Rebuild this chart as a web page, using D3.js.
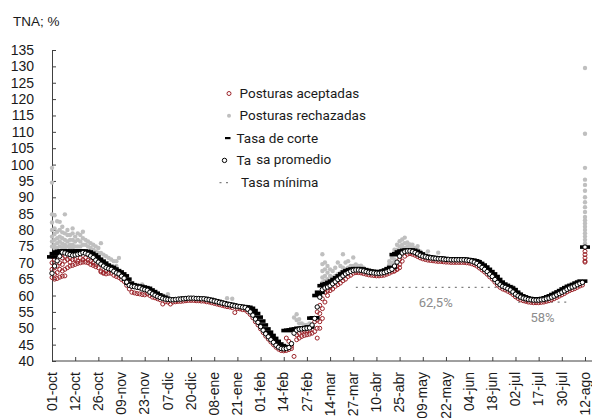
<!DOCTYPE html>
<html lang="es">
<head>
<meta charset="utf-8">
<script src="https://d3js.org/d3.v7.min.js"></script>
<style>
  body { margin: 0; background: #fff; }
  text { font-family: "Liberation Sans", Arial, sans-serif; fill: #1a1a1a; }
  .leyenda text, .nota { font-family: Roboto, "Liberation Sans", sans-serif; }
</style>
</head>
<body>
<script>
// etiquetas del eje x: una cada 9 licitaciones
const etiquetas = ["01-oct","12-oct","26-oct","09-nov","23-nov","07-dic","20-dic","08-ene","21-ene",
  "01-feb","14-feb","27-feb","14-mar","27-mar","10-abr","25-abr","09-may","22-may","04-jun",
  "18-jun","02-jul","17-jul","30-jul","12-ago"];
const diasPorEtiqueta = 9;
const ticksY = [40,45,50,55,60,65,70,75,80,85,90,95,100,105,110,115,120,125,130,135];

// tasa promedio (una por licitacion)
const promedio = [
  66.8, 69.0, 70.6, 72.0, 73.2, 73.0, 72.7, 72.5, 72.3,
  72.4, 72.6, 72.8, 73.1, 72.9, 72.6, 72.1, 71.6, 70.8,
  70.2, 69.6, 69.0, 68.5, 68.2, 68.0, 67.4, 66.9, 66.6,
  65.9, 65.3, 64.1, 63.1, 62.8, 62.7, 62.5, 62.4, 62.0,
  61.8, 61.6, 61.0, 60.5, 60.1, 59.7, 59.4, 59.1, 58.9,
  58.8, 58.7, 58.7, 58.8, 58.9, 58.9, 59.0, 59.1, 59.2,
  59.2, 59.2, 59.1, 59.1, 59.0, 59.0, 58.8, 58.7, 58.5,
  58.3, 58.1, 57.9, 57.7, 57.5, 57.3, 57.2, 57.0, 56.8,
  56.7, 56.6, 56.4, 56.3, 55.8, 55.0, 54.0, 52.8, 51.8,
  50.5, 49.4, 48.3, 47.4, 46.5, 45.7, 44.8, 44.2, 43.8,
  43.7, 43.8, 44.1, 45.3, 48.5, 49.4, 49.7, 49.8, 49.9,
  50.0, 50.1, 51.0, 53.0, 56.5, 59.5, 61.8, 62.3, 62.6,
  63.0, 63.6, 64.2, 64.9, 65.4, 66.0, 66.6, 67.0, 67.4,
  67.7, 67.8, 67.8, 67.7, 67.5, 67.3, 67.1, 67.0, 66.9,
  66.8, 66.8, 66.9, 67.0, 67.3, 67.6, 68.0, 69.0, 70.2,
  72.0, 73.0, 73.4, 73.6, 73.6, 73.4, 73.1, 72.7, 72.3,
  72.0, 71.8, 71.6, 71.5, 71.4, 71.3, 71.2, 71.2, 71.1,
  71.0, 71.0, 70.9, 70.9, 70.9, 70.9, 70.9, 70.9, 70.8,
  70.7, 70.5, 70.2, 69.8, 69.2, 68.6, 68.0, 67.3, 66.5,
  65.8, 64.9, 64.0, 63.3, 62.8, 62.5, 62.1, 61.7, 61.1,
  60.4, 59.9, 59.5, 59.2, 59.0, 58.8, 58.7, 58.6, 58.6,
  58.6, 58.7, 58.8, 59.0, 59.2, 59.5, 59.8, 60.2, 60.6,
  61.0, 61.4, 61.9, 62.3, 62.6, 62.9, 63.3, 63.7, 64.0,
  74.8
];

// tasa de corte (una por licitacion)
const corte = [
  71.8, 72.8, 73.3, 73.5, 73.6, 73.6, 73.5, 73.5, 73.5,
  73.5, 73.6, 73.6, 73.6, 73.5, 73.3, 72.9, 72.4, 71.8,
  71.1, 70.5, 69.9, 69.3, 68.9, 68.6, 68.1, 67.6, 67.2,
  66.6, 66.0, 65.0, 63.8, 63.3, 63.1, 62.9, 62.8, 62.6,
  62.4, 62.2, 61.7, 61.2, 60.7, 60.2, 59.8, 59.5, 59.2,
  58.9, 58.8, 58.8, 58.9, 59.0, 59.0, 59.1, 59.2, 59.3,
  59.3, 59.3, 59.2, 59.2, 59.1, 59.1, 58.9, 58.8, 58.6,
  58.4, 58.2, 58.0, 57.8, 57.6, 57.4, 57.3, 57.1, 56.9,
  56.8, 56.7, 56.6, 56.5, 56.4, 56.1, 55.4, 54.5, 53.4,
  52.2, 51.0, 49.8, 48.8, 47.8, 46.9, 46.0, 45.2, 44.7,
  44.4, 49.3, 49.4, 49.5, 49.7, 49.8, 50.0, 50.0, 50.1,
  50.2, 50.4, 53.1, 53.2, 60.0, 61.0, 63.0, 63.4, 63.6,
  64.0, 64.4, 64.9, 65.4, 66.0, 66.6, 67.2, 67.6, 67.9,
  68.1, 68.2, 68.2, 68.1, 67.9, 67.7, 67.5, 67.4, 67.3,
  67.2, 67.2, 67.3, 67.5, 67.8, 68.2, 68.6, 72.5, 72.8,
  73.3, 73.6, 73.8, 73.9, 73.9, 73.8, 73.5, 73.1, 72.7,
  72.2, 72.0, 71.8, 71.7, 71.6, 71.5, 71.4, 71.4, 71.3,
  71.2, 71.2, 71.1, 71.1, 71.1, 71.1, 71.1, 71.1, 71.0,
  70.9, 70.8, 70.6, 70.3, 69.8, 69.3, 68.7, 68.0, 67.3,
  66.6, 65.8, 64.9, 64.1, 63.5, 63.1, 62.7, 62.3, 61.8,
  61.0, 60.4, 59.9, 59.6, 59.3, 59.1, 59.0, 58.9, 58.9,
  58.9, 59.0, 59.1, 59.3, 59.6, 59.9, 60.3, 60.7, 61.1,
  61.5, 62.0, 62.4, 62.8, 63.1, 63.4, 63.8, 64.1, 64.4,
  74.8
];

// postura aceptada mas baja de cada licitacion
const aceptadaMin = [
  65.5, 65.0, 65.2, 65.6, 65.9, 66.0, 68.5, 69.0, 69.2,
  69.5, 69.8, 70.0, 70.2, 70.2, 70.0, 69.5, 69.2, 68.8,
  68.5, 67.5, 66.8, 66.6, 66.8, 66.8, 66.2, 65.8, 65.5,
  64.9, 64.3, 63.1, 62.0, 61.0, 60.8, 60.6, 60.5, 60.3,
  60.2, 60.5, 60.0, 59.5, 59.3, 59.0, 58.7, 57.4, 58.1,
  58.0, 57.4, 58.0, 58.1, 58.2, 58.2, 58.3, 58.4, 58.5,
  58.5, 58.5, 58.4, 58.4, 58.3, 58.3, 58.1, 58.0, 57.8,
  57.6, 57.4, 57.2, 57.0, 56.8, 56.6, 56.5, 56.3, 54.8,
  56.0, 55.9, 55.7, 55.6, 55.0, 54.2, 53.2, 52.0, 51.0,
  49.8, 48.7, 47.6, 46.7, 45.8, 45.0, 44.2, 43.6, 43.2,
  43.1, 43.2, 43.5, 43.8, 41.4, 46.5, 47.0, 47.5, 47.8,
  48.0, 48.2, 48.5, 49.0, 47.0, 50.0, 53.0, 58.0, 60.0,
  61.5, 62.0, 62.8, 63.3, 63.8, 64.5, 65.0, 65.8, 66.2,
  66.8, 67.0, 67.0, 66.9, 66.7, 66.5, 66.3, 66.2, 66.1,
  66.0, 66.0, 66.1, 66.2, 66.5, 66.8, 67.2, 67.5, 68.0,
  68.5, 70.5, 72.0, 72.6, 72.8, 72.6, 72.3, 71.9, 71.5,
  71.2, 71.0, 70.8, 70.7, 70.6, 70.5, 70.4, 70.4, 70.3,
  70.2, 70.2, 70.1, 70.1, 70.1, 70.1, 70.1, 70.1, 70.0,
  69.9, 69.7, 69.4, 69.0, 68.4, 67.8, 67.2, 66.5, 65.7,
  65.0, 64.1, 63.2, 62.5, 62.0, 61.7, 61.3, 60.9, 60.3,
  59.6, 59.1, 58.7, 58.4, 58.2, 58.0, 57.9, 57.8, 57.8,
  57.8, 57.9, 58.0, 58.2, 58.4, 58.7, 59.0, 59.4, 59.8,
  60.2, 60.6, 61.1, 61.5, 61.8, 62.1, 62.5, 62.9, 63.2,
  70.2
];

// otras posturas aceptadas: [licitacion, tasa]
const aceptadasExtra = [
  [0,72.0],[0,70.0],[0,68.0],[1,71.0],[1,68.5],[1,66.5],[2,71.5],[2,69.0],[2,67.0],
  [3,72.5],[3,70.0],[3,68.0],[4,71.5],[4,69.5],[4,67.5],[5,72.0],[5,70.5],[5,68.0],
  [6,71.0],[7,71.5],[7,70.2],[8,71.0],[9,71.0],[10,70.5],[11,71.5],[12,71.0],
  [13,71.5],[14,70.8],[15,70.5],[16,70.0],[17,69.5],[19,67.2],[20,67.0],[21,67.5],
  [91,47.0],[92,46.0],[93,44.5],[95,48.0],[96,48.5],[97,49.0],[98,49.2],[99,49.3],
  [100,49.5],[101,50.5],[102,52.0],[103,50.0],[103,52.5],[103,55.0],[104,52.0],
  [104,54.5],[104,57.0],[105,56.0],[105,59.0],[106,61.0],[106,62.0],[107,61.5],[108,62.5],
  [133,67.5],[134,68.0],[134,69.0],[135,69.5],[135,71.0],
  [207,73.5],[207,72.5],[207,71.5],[207,70.5]
];

// posturas rechazadas: [licitacion, tasas...]
const rechazadas = [
  [0, 99.0, 94.5, 84.8, 82.3, 80.0, 78.0, 76.5, 75.0],
  [1, 84.5, 80.5, 78.8, 77.0, 75.5, 74.5],
  [2, 82.7, 79.5, 77.5, 76.0, 74.5],
  [3, 82.5, 80.0, 78.0, 76.5, 75.0],
  [4, 81.0, 79.3, 77.5, 75.8, 74.5],
  [5, 84.8, 79.0, 77.0, 75.5, 74.5],
  [6, 80.0, 78.5, 76.5, 75.0],
  [7, 78.5, 77.0, 75.5, 74.5],
  [8, 80.5, 79.0, 77.0, 75.5, 74.5],
  [9, 78.0, 76.5, 75.0],
  [10, 79.0, 77.0, 75.0],
  [11, 78.5, 76.5, 75.0],
  [12, 79.5, 77.5, 75.5],
  [13, 77.0, 75.5],
  [14, 76.5, 75.0],
  [15, 76.0, 74.5],
  [16, 75.5, 74.0],
  [17, 75.0, 73.5],
  [18, 74.5, 73.0],
  [19, 76.0, 73.0],
  [20, 72.5], [21, 72.0], [22, 71.5], [23, 71.0], [24, 70.5],
  [25, 70.5, 69.0], [26, 71.5],
  [35, 63.4], [43, 60.0], [45, 60.4], [68, 59.2], [70, 59.0],
  [94, 53.3], [95, 54.3, 52.5], [96, 52.8, 51.5], [97, 51.5], [98, 51.0], [99, 51.0], [100, 51.5],
  [105, 72.6, 69.6, 67.5, 65.5, 64.0],
  [106, 70.1, 68.0, 66.0, 64.5],
  [107, 69.0, 67.0, 65.0],
  [108, 68.0, 66.0, 64.5],
  [109, 67.5, 65.5], [110, 68.5, 66.0], [111, 70.1, 66.5], [112, 69.0, 67.0],
  [113, 72.6, 68.5, 67.0], [114, 70.1, 68.0], [115, 70.5, 68.5], [116, 69.0],
  [117, 71.6, 69.0], [118, 69.5], [119, 69.0], [120, 69.1, 68.5], [121, 68.5],
  [131, 70.5, 69.5], [132, 71.5, 70.0], [133, 74.0, 72.5, 71.0], [134, 75.5, 74.0, 72.5],
  [135, 76.6, 75.0, 73.5], [136, 77.1, 75.5, 74.5], [137, 77.7, 76.0, 74.5],
  [138, 76.2, 75.0], [139, 75.6, 74.5], [140, 75.5, 74.5], [141, 74.5], [142, 75.1, 74.0],
  [143, 73.5], [146, 73.5], [150, 73.1],
  [166, 70.5], [167, 69.8], [179, 62.6], [181, 61.0],
  [193, 59.8], [195, 60.5], [200, 62.8], [204, 64.2],
  [207, 129.5, 109.4, 99.0, 95.4, 93.8, 92.0, 90.0, 88.5, 87.0, 85.5, 84.0, 83.0,
        82.0, 81.0, 80.0, 79.0, 78.0, 77.0, 76.0, 75.5]
];

// tasas minimas vigentes
const tasaMinima = [
  {desde: 118, hasta: 180, tasa: 62.5, texto: "62,5%"},
  {desde: 181, hasta: 200, tasa: 58, texto: "58%"}
];

const W = 592, H = 418;
const svg = d3.select("body").append("svg").attr("width", W).attr("height", H);

const x = d3.scaleLinear()
  .domain([0, (etiquetas.length - 1) * diasPorEtiqueta])
  .range([52, 585]);
const y = d3.scaleLinear().domain([40, 135]).range([361, 50]);

// titulo del eje
svg.append("text").attr("x", 13).attr("y", 26).attr("font-size", 13.5).text("TNA; %");

// eje y
const ejeY = svg.append("g").attr("transform", "translate(52,0)")
  .call(d3.axisLeft(y).tickValues(ticksY).tickSize(-4).tickSizeOuter(0).tickPadding(18));
ejeY.selectAll("text").attr("font-size", 14).attr("font-family", null);

// eje x
const ejeX = svg.append("g").attr("transform", "translate(0,361)")
  .call(d3.axisBottom(x)
    .tickValues(etiquetas.map((d, i) => i * diasPorEtiqueta))
    .tickFormat((d, i) => etiquetas[i])
    .tickSize(-4).tickSizeOuter(0));
ejeX.select(".domain").attr("d", "M" + x.range()[0] + ",0H" + W);
ejeX.selectAll("text")
  .attr("font-size", 14).attr("font-family", null)
  .attr("x", 0).attr("y", 0).attr("dy", "0.3em")
  .attr("text-anchor", "end")
  .attr("transform", "translate(0,11) rotate(-90)");
svg.selectAll(".domain, .tick line").attr("stroke", "#404040");

// tasa minima
const gMin = svg.append("g");
tasaMinima.forEach(t => {
  gMin.append("line")
    .attr("x1", x(t.desde)).attr("x2", x(t.hasta))
    .attr("y1", y(t.tasa)).attr("y2", y(t.tasa))
    .attr("stroke", "#808080").attr("stroke-width", 1.3)
    .attr("stroke-dasharray", "2,4.6");
  gMin.append("text").attr("class", "nota")
    .attr("x", x((t.desde + t.hasta) / 2)).attr("y", y(t.tasa) + 20)
    .attr("text-anchor", "middle").attr("font-size", 13)
    .style("fill", "#8c8c8c").text(t.texto);
});

// posturas aceptadas
const acept = aceptadaMin.map((v, i) => [i, v]).concat(aceptadasExtra);
svg.append("g").selectAll("circle").data(acept).join("circle")
  .attr("cx", d => x(d[0])).attr("cy", d => y(d[1])).attr("r", 2)
  .attr("fill", "none").attr("stroke", "#9c2329").attr("stroke-width", 1);

// posturas rechazadas
const rech = rechazadas.flatMap(([i, ...vs]) => vs.map(v => [i, v]));
svg.append("g").selectAll("circle").data(rech).join("circle")
  .attr("cx", d => x(d[0])).attr("cy", d => y(d[1])).attr("r", 2.2)
  .attr("fill", "#bfbfbf");

// tasa de corte
svg.append("g").selectAll("rect").data(corte).join("rect")
  .attr("x", (d, i) => x(i) - 5).attr("y", d => y(d) - 1.8)
  .attr("width", 10).attr("height", 3.6).attr("fill", "#000");

// tasa promedio
svg.append("g").selectAll("circle").data(promedio).join("circle")
  .attr("cx", (d, i) => x(i)).attr("cy", d => y(d)).attr("r", 2.2)
  .attr("fill", "#fff").attr("stroke", "#000").attr("stroke-width", 1);

// leyenda
const ley = svg.append("g").attr("class", "leyenda");
const items = [
  {tipo: "acept", texto: "Posturas aceptadas"},
  {tipo: "rech", texto: "Posturas rechazadas"},
  {tipo: "corte", texto: "Tasa de corte"},
  {tipo: "prom", texto: "Ta", resto: "sa promedio"},
  {tipo: "min", texto: "Tasa mínima"}
];
items.forEach((it, k) => {
  const cy = 93.5 + k * 22.3;
  const g = ley.append("g");
  if (it.tipo === "acept") g.append("circle").attr("cx", 229).attr("cy", cy).attr("r", 2)
    .attr("fill", "none").attr("stroke", "#9c2329");
  if (it.tipo === "rech") g.append("circle").attr("cx", 229).attr("cy", cy).attr("r", 2)
    .attr("fill", "#bfbfbf");
  if (it.tipo === "corte") g.append("rect").attr("x", 225).attr("y", cy - 1.1)
    .attr("width", 5.5).attr("height", 2.2).attr("fill", "#000");
  if (it.tipo === "prom") g.append("circle").attr("cx", 224.5).attr("cy", cy).attr("r", 2.2)
    .attr("fill", "#fff").attr("stroke", "#000");
  if (it.tipo === "min") g.append("line").attr("x1", 219.5).attr("x2", 229).attr("y1", cy).attr("y2", cy)
    .attr("stroke", "#808080").attr("stroke-width", 1.2).attr("stroke-dasharray", "2,4.5");
  const tx = it.tipo === "corte" || it.tipo === "prom" ? 236.5 : (it.tipo === "min" ? 241 : 239.5);
  const t = g.append("text").attr("x", tx).attr("y", cy + 4.6).attr("font-size", 13.5).text(it.texto);
  if (it.resto) t.append("tspan").attr("dx", 5).attr("dy", -1.5).text(it.resto);
});
</script>
</body>
</html>
